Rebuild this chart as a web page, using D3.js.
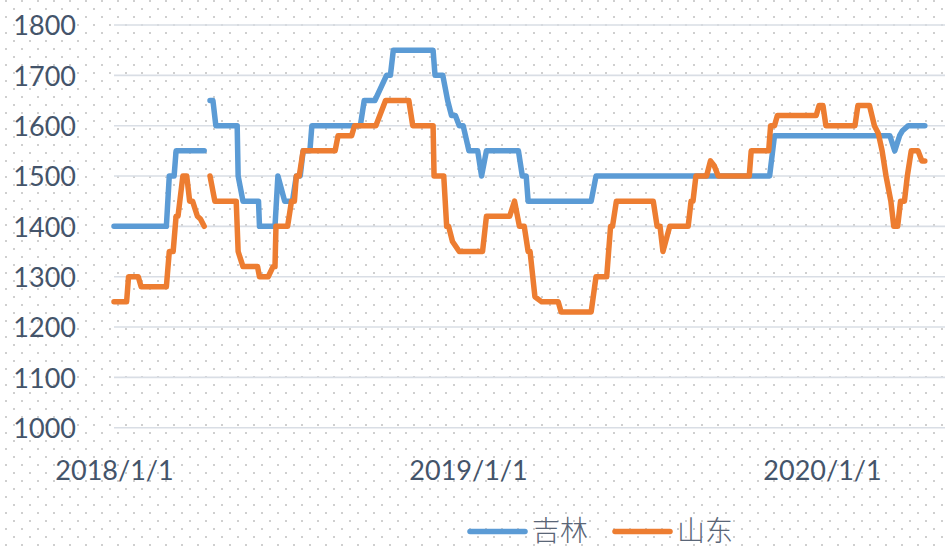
<!DOCTYPE html>
<html>
<head>
<meta charset="utf-8">
<script src="https://cdn.jsdelivr.net/npm/d3@7"></script>
<style>
  html, body { margin: 0; padding: 0; background: #fff; }
  svg { display: block; }
</style>
</head>
<body>
<div id="chart"></div>
<script>
// 吉林 / 山东 price series (breakpoint dates and values; null marks a gap)
const jilinDates = [
  "2018-01-01","2018-02-24","2018-02-27","2018-03-04","2018-03-06","2018-04-04","2018-04-07",
  "2018-04-10","2018-04-13","2018-04-16","2018-05-08","2018-05-09","2018-05-14","2018-05-30",
  "2018-05-31","2018-06-16","2018-06-19","2018-06-26","2018-07-04","2018-07-08","2018-07-12",
  "2018-07-15","2018-07-22","2018-07-24","2018-09-12","2018-09-16","2018-09-27","2018-10-09",
  "2018-10-13","2018-10-16","2018-11-26","2018-11-28","2018-12-06","2018-12-11","2018-12-15",
  "2018-12-19","2018-12-23","2018-12-27","2019-01-02","2019-01-11","2019-01-15","2019-01-20",
  "2019-02-22","2019-02-26","2019-03-02","2019-03-04","2019-05-08","2019-05-13","2019-11-08",
  "2019-11-13","2020-03-11","2020-03-16","2020-03-21","2020-03-24","2020-03-30","2020-04-16"
];
const jilinValues = [
  1400,1400,1500,1500,1550,1550,null,
  1650,1650,1600,1600,1500,1450,1450,
  1400,1400,1500,1450,1450,1500,1500,
  1550,1550,1600,1600,1650,1650,1700,
  1700,1750,1750,1700,1700,1650,1620,
  1620,1600,1600,1550,1550,1500,1550,
  1550,1500,1500,1450,1450,1500,1500,
  1580,1580,1550,1580,1590,1600,1600
];

const shandongDates = [
  "2018-01-01","2018-01-14","2018-01-16","2018-01-26","2018-01-29","2018-02-24","2018-02-27",
  "2018-03-03","2018-03-06","2018-03-08","2018-03-13","2018-03-17","2018-03-20","2018-03-23",
  "2018-03-28","2018-03-31","2018-04-04","2018-04-07","2018-04-10","2018-04-15","2018-05-07",
  "2018-05-09","2018-05-14","2018-05-29","2018-05-31","2018-06-09","2018-06-14","2018-06-16",
  "2018-06-17","2018-06-29","2018-07-03","2018-07-06","2018-07-08","2018-07-11","2018-07-15",
  "2018-08-17","2018-08-20","2018-09-03","2018-09-06","2018-09-28","2018-10-08","2018-11-01",
  "2018-11-05","2018-11-26","2018-11-27","2018-12-07","2018-12-10","2018-12-12","2018-12-16",
  "2018-12-23","2019-01-16","2019-01-20","2019-02-13","2019-02-18","2019-02-23","2019-02-28",
  "2019-03-04","2019-03-06","2019-03-11","2019-03-18","2019-04-04","2019-04-07","2019-05-08",
  "2019-05-13","2019-05-24","2019-05-28","2019-05-30","2019-06-03","2019-07-11","2019-07-15",
  "2019-07-18","2019-07-21","2019-07-28","2019-08-16","2019-08-19","2019-08-21","2019-08-24",
  "2019-09-04","2019-09-08","2019-09-12","2019-09-16","2019-10-18","2019-10-20","2019-11-07",
  "2019-11-09","2019-11-13","2019-11-16","2019-12-26","2019-12-29","2020-01-02","2020-01-05",
  "2020-02-04","2020-02-07","2020-02-19","2020-02-24","2020-02-28","2020-03-03","2020-03-07",
  "2020-03-12","2020-03-15","2020-03-19","2020-03-22","2020-03-26","2020-03-29","2020-04-02",
  "2020-04-09","2020-04-13","2020-04-16"
];
const shandongValues = [
  1250,1250,1300,1300,1280,1280,1350,
  1350,1420,1420,1500,1500,1450,1450,
  1420,1415,1400,null,1500,1450,1450,
  1350,1320,1320,1300,1300,1320,1320,
  1400,1400,1450,1450,1500,1500,1550,
  1550,1580,1580,1600,1600,1650,1650,
  1600,1600,1500,1500,1400,1400,1370,
  1350,1350,1420,1420,1450,1400,1400,
  1350,1350,1260,1250,1250,1230,1230,
  1300,1300,1400,1400,1450,1450,1400,
  1400,1350,1400,1400,1450,1450,1500,
  1500,1530,1520,1500,1500,1550,1550,
  1600,1600,1620,1620,1640,1640,1600,
  1600,1640,1640,1600,1585,1550,1500,
  1450,1400,1400,1450,1450,1500,1550,
  1550,1530,1530
];

const yTicks = [1000, 1100, 1200, 1300, 1400, 1500, 1600, 1700, 1800];
const xTicks = ["2018-01-01", "2019-01-01", "2020-01-01"];
const seriesNames = ["吉林", "山东"];
const seriesColors = ["#5b9bd5", "#ed7d31"];

const W = 945, H = 548;
const parse = d3.timeParse("%Y-%m-%d");
const fmt = d3.timeFormat("%Y/%-m/%-d");

const svg = d3.select("#chart").append("svg")
  .attr("width", W).attr("height", H);

// dotted backdrop
const defs = svg.append("defs");
const pat = defs.append("pattern")
  .attr("id", "dots").attr("patternUnits", "userSpaceOnUse")
  .attr("width", 16).attr("height", 16);
pat.append("rect").attr("x", 5).attr("y", 0).attr("width", 2).attr("height", 2).attr("fill", "#cfcfcf");
pat.append("rect").attr("x", 13).attr("y", 8).attr("width", 2).attr("height", 2).attr("fill", "#cfcfcf");
svg.append("rect").attr("width", W).attr("height", H).attr("fill", "#fff");
svg.append("rect").attr("width", W).attr("height", H).attr("fill", "url(#dots)");

const x = d3.scaleTime()
  .domain([parse("2018-01-01"), parse("2020-01-01")])
  .range([114, 822]);
const y = d3.scaleLinear().domain([1000, 1800]).range([427.7, 25]);

const font = "Lato, 'Open Sans', sans-serif";
const textColor = "#44546a";

// horizontal gridlines
svg.append("g").selectAll("line").data(yTicks).join("line")
  .attr("x1", 114).attr("x2", W)
  .attr("y1", d => y(d)).attr("y2", d => y(d))
  .attr("stroke", "#d9dee5").attr("stroke-width", 1.6);

// y axis labels
const yAxis = d3.axisLeft(y).tickValues(yTicks).tickFormat(d3.format("d"))
  .tickSize(0).tickPadding(0);
const gy = svg.append("g").attr("transform", "translate(76,0)").call(yAxis);
gy.select(".domain").remove();
gy.selectAll("text")
  .attr("font-family", font).attr("font-size", 27).attr("fill", textColor)
  .attr("dy", "0.36em");

// x axis labels
const xAxis = d3.axisBottom(x).tickValues(xTicks.map(parse)).tickFormat(fmt).tickSize(0).tickPadding(0);
const gx = svg.append("g").attr("transform", "translate(0,460)").call(xAxis);
gx.select(".domain").remove();
gx.selectAll("text")
  .attr("font-family", font).attr("font-size", 27).attr("fill", textColor)
  .attr("y", 0).attr("dy", "0.74em");

// series lines
const line = d3.line()
  .defined(d => d.v !== null)
  .x(d => x(d.t)).y(d => y(d.v));

const series = [
  jilinDates.map((t, i) => ({ t: parse(t), v: jilinValues[i] })),
  shandongDates.map((t, i) => ({ t: parse(t), v: shandongValues[i] }))
];

svg.append("g").selectAll("path").data(series).join("path")
  .attr("d", line)
  .attr("fill", "none")
  .attr("stroke", (d, i) => seriesColors[i])
  .attr("stroke-width", 5.5)
  .attr("stroke-linejoin", "round")
  .attr("stroke-linecap", "round");

// legend
const legendX = [470, 615];
const lg = svg.append("g");
seriesNames.forEach((name, i) => {
  lg.append("line")
    .attr("x1", legendX[i]).attr("x2", legendX[i] + 55)
    .attr("y1", 531.5).attr("y2", 531.5)
    .attr("stroke", seriesColors[i]).attr("stroke-width", 5.5)
    .attr("stroke-linecap", "round");
  lg.append("text")
    .attr("x", legendX[i] + 62).attr("y", 531)
    .attr("dy", "0.36em")
    .attr("font-family", "'Noto Sans CJK SC', sans-serif")
    .attr("font-weight", 300)
    .attr("font-size", 28)
    .attr("fill", "#5a6677")
    .text(name);
});
</script>
</body>
</html>
